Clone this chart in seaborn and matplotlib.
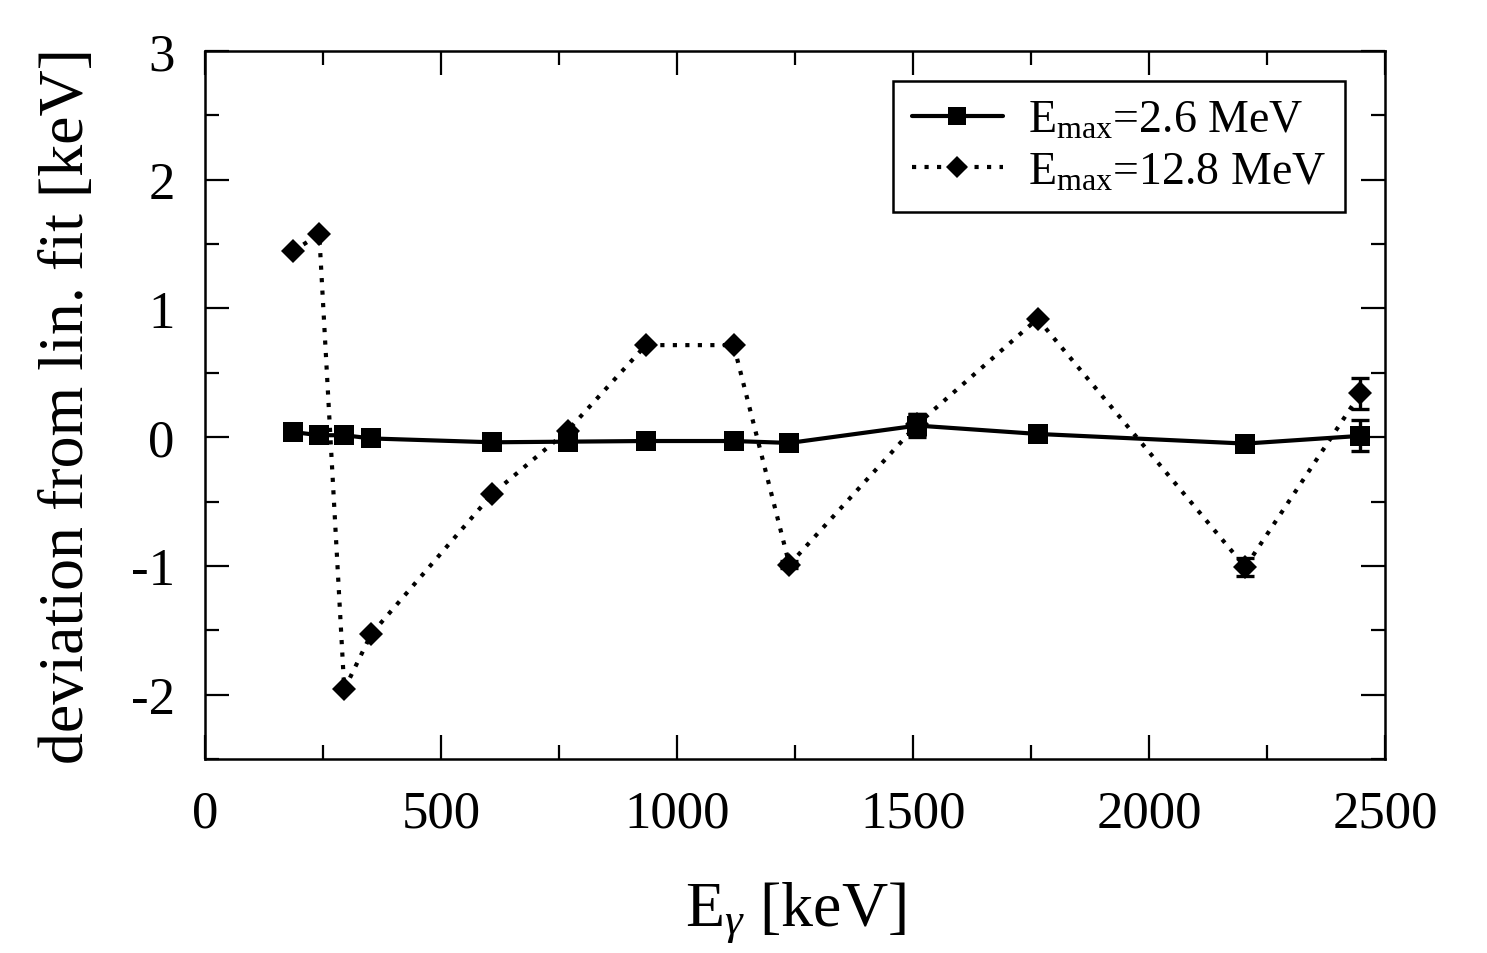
import matplotlib
matplotlib.use('Agg')
import matplotlib.pyplot as plt
import seaborn as sns
import pandas as pd
from matplotlib.ticker import MultipleLocator

sns.set_theme(style="ticks")
plt.rcParams['font.family'] = ['Liberation Serif', 'DejaVu Serif']
plt.rcParams['mathtext.fontset'] = 'custom'
plt.rcParams['mathtext.rm'] = 'Liberation Serif'
plt.rcParams['mathtext.it'] = 'Liberation Serif:italic'
plt.rcParams['axes.unicode_minus'] = False
plt.rcParams['text.color'] = 'black'
plt.rcParams['axes.labelcolor'] = 'black'

# DATA
energy = [186, 242, 295, 352, 609, 768, 934, 1120, 1238, 1509, 1764, 2204, 2448]

dev_26 = [0.04, 0.015, 0.015, -0.01, -0.04, -0.035, -0.03, -0.03, -0.045, 0.09, 0.025, -0.05, 0.01]
err_26 = [0, 0, 0, 0, 0, 0, 0, 0, 0, 0.09, 0, 0, 0.12]

dev_128 = [1.445, 1.575, -1.96, -1.53, -0.44, 0.05, 0.715, 0.715, -0.99, 0.1, 0.92, -1.01, 0.34]
err_128 = [0, 0, 0, 0, 0, 0, 0, 0, 0.03, 0.08, 0, 0.07, 0.12]

label_26 = r'E$_{\rm max}$=2.6 MeV'
label_128 = r'E$_{\rm max}$=12.8 MeV'

df = pd.DataFrame({'E': energy * 2,
                   'dev': dev_26 + dev_128,
                   'set': [label_26] * len(energy) + [label_128] * len(energy)})

fig = plt.figure(figsize=(14.87, 9.54), dpi=100)
ax = fig.add_axes([0.1379, 0.2034, 0.7935, 0.7421])

sns.lineplot(data=df, x='E', y='dev', hue='set', style='set',
             palette=['black', 'black'],
             dashes={label_26: '', label_128: (1, 2)},
             markers={label_26: 's', label_128: 'D'},
             markersize=15, markeredgewidth=0,
             sort=False, ax=ax)

for ln in ax.get_lines():
    ln.set_linewidth(3)
    if ln.get_marker() == 'D':
        ln.set_markersize(12.5)

# error bars only where an uncertainty is given
for dev, err in [(dev_26, err_26), (dev_128, err_128)]:
    pts = [(e, d, s) for e, d, s in zip(energy, dev, err) if s > 0]
    ax.errorbar([p[0] for p in pts], [p[1] for p in pts],
                yerr=[p[2] for p in pts], fmt='none', ecolor='black',
                elinewidth=2.4, capsize=6.5, capthick=2.4)

ax.set_xlim(0, 2500)
ax.set_ylim(-2.5, 3)
ax.xaxis.set_major_locator(MultipleLocator(500))
ax.xaxis.set_minor_locator(MultipleLocator(250))
ax.yaxis.set_major_locator(MultipleLocator(1))
ax.yaxis.set_minor_locator(MultipleLocator(0.5))
ax.tick_params(which='both', direction='in', top=True, right=True,
               labelsize=38, pad=22, colors='black')
ax.tick_params(which='major', length=17, width=1.6)
ax.tick_params(which='minor', length=10, width=1.6)
for sp in ax.spines.values():
    sp.set_linewidth(1.8)
    sp.set_color('black')

ax.set_xlabel(r'E$_\gamma$ [keV]', fontsize=46, labelpad=30)
ax.set_ylabel('deviation from lin. fit [keV]', fontsize=46, labelpad=24)

leg = ax.legend(loc='upper right', bbox_to_anchor=(0.966, 0.958),
                borderaxespad=0, fontsize=33, frameon=True, fancybox=False,
                framealpha=1, edgecolor='black', handlelength=2.0,
                borderpad=0.4, labelspacing=0.2, handletextpad=0.55)
leg.get_frame().set_linewidth(1.8)
for h in leg.legend_handles:
    h.set_linewidth(3)
    if h.get_marker() == 'D':
        h.set_markersize(11)
    else:
        h.set_markersize(13)

fig.savefig('out.png', dpi=100)
